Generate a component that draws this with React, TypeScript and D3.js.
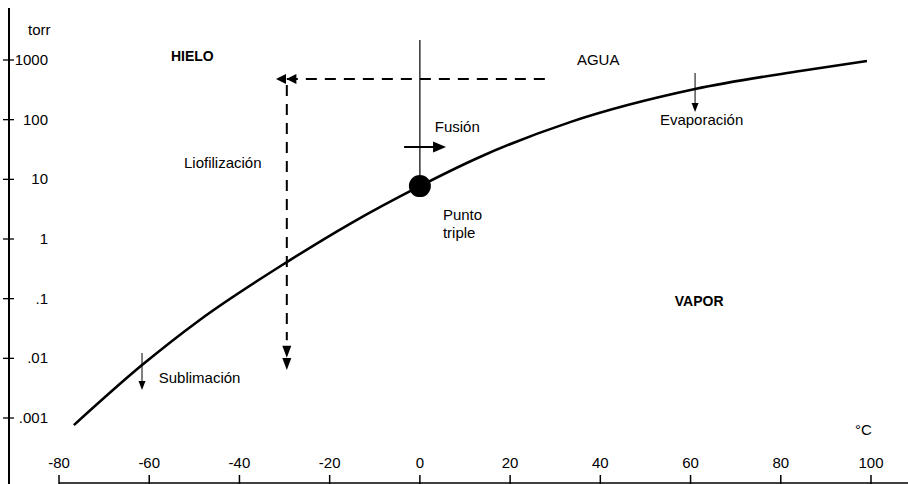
import React, { useEffect, useRef } from "react";
import * as d3 from "d3";

// curva de presión de vapor
const temps = [-76.7, -61.6, -48.8, -29.5, -15.5, 0, 13.3, 33.3, 61.0, 84.3, 99.1];
const pressures = [0.00076, 0.0077, 0.044, 0.41, 1.8, 7.7, 23.7, 91, 326, 654, 962];

const xTicks = [-80, -60, -40, -20, 0, 20, 40, 60, 80, 100];
const yTicks = [1000, 100, 10, 1, 0.1, 0.01, 0.001];
const yTickLabels = ["1000", "100", "10", "1", ".1", ".01", ".001"];

// punto triple
const triplePoint = { t: 0, p: 7.7 };

// etiquetas: texto, temperatura, presión, negrita
const labels = [
  { text: "HIELO", t: -55.2, p: 962, bold: true },
  { text: "AGUA", t: 34.8, p: 824, bold: false },
  { text: "VAPOR", t: 56.5, p: 0.0753, bold: true },
  { text: "Liofilización", t: -52.3, p: 15.5, bold: false },
  { text: "Fusión", t: 3.3, p: 62, bold: false },
  { text: "Evaporación", t: 53.2, p: 81, bold: false },
  { text: "Sublimación", t: -57.9, p: 0.00386, bold: false },
  { text: "Punto", t: 5.1, p: 2.08, bold: false },
  { text: "triple", t: 5.1, p: 1.04, bold: false },
];

const App = () => {
  const svgRef = useRef(null);

  useEffect(() => {
    const width = 908;
    const height = 484;
    const svg = d3.select(svgRef.current);
    svg.selectAll("*").remove();
    svg.attr("width", width).attr("height", height);

    const font = "'Liberation Sans', Arial, sans-serif";

    const x = d3.scaleLinear().domain([-80, 100]).range([59, 871]);
    const y = d3.scaleLog().domain([0.001, 1000]).range([418, 60]);

    // eje vertical
    svg
      .append("line")
      .attr("x1", 9)
      .attr("x2", 9)
      .attr("y1", 8)
      .attr("y2", height)
      .attr("stroke", "#000")
      .attr("stroke-width", 2);

    yTicks.forEach((v, i) => {
      svg
        .append("line")
        .attr("x1", 3)
        .attr("x2", 14)
        .attr("y1", y(v))
        .attr("y2", y(v))
        .attr("stroke", "#000")
        .attr("stroke-width", 1.3);
      svg
        .append("text")
        .attr("x", 48)
        .attr("y", y(v) + 5)
        .attr("text-anchor", "end")
        .attr("font-family", font)
        .attr("font-size", "15px")
        .text(yTickLabels[i]);
    });

    svg
      .append("text")
      .attr("x", 28)
      .attr("y", 35)
      .attr("font-family", font)
      .attr("font-size", "15px")
      .text("torr");

    // eje horizontal
    svg
      .append("line")
      .attr("x1", x(-80))
      .attr("x2", width)
      .attr("y1", height - 1)
      .attr("y2", height - 1)
      .attr("stroke", "#000")
      .attr("stroke-width", 1.5);

    xTicks.forEach((v) => {
      svg
        .append("line")
        .attr("x1", x(v))
        .attr("x2", x(v))
        .attr("y1", height - 9)
        .attr("y2", height)
        .attr("stroke", "#000")
        .attr("stroke-width", 1.5);
      svg
        .append("text")
        .attr("x", x(v))
        .attr("y", 468)
        .attr("text-anchor", "middle")
        .attr("font-family", font)
        .attr("font-size", "15px")
        .text(v);
    });

    svg
      .append("text")
      .attr("x", 855)
      .attr("y", 435)
      .attr("font-family", font)
      .attr("font-size", "15px")
      .text("°C");

    // curva
    const line = d3
      .line()
      .x((d) => x(d[0]))
      .y((d) => y(d[1]))
      .curve(d3.curveMonotoneX);

    svg
      .append("path")
      .attr("d", line(temps.map((t, i) => [t, pressures[i]])))
      .attr("fill", "none")
      .attr("stroke", "#000")
      .attr("stroke-width", 2.6);

    // punta de flecha
    const head = (tx, ty, dir, len, half) => {
      let pts;
      if (dir === "down") pts = [[tx, ty], [tx - half, ty - len], [tx + half, ty - len]];
      else if (dir === "left") pts = [[tx, ty], [tx + len, ty - half], [tx + len, ty + half]];
      else pts = [[tx, ty], [tx - len, ty - half], [tx - len, ty + half]];
      svg
        .append("path")
        .attr("d", "M" + pts.map((p) => p.join(",")).join("L") + "Z")
        .attr("fill", "#000");
    };

    // línea vertical desde el punto triple
    svg
      .append("line")
      .attr("x1", x(0))
      .attr("x2", x(0))
      .attr("y1", y(2163))
      .attr("y2", y(triplePoint.p))
      .attr("stroke", "#000")
      .attr("stroke-width", 1.2);

    // fusión
    svg
      .append("line")
      .attr("x1", x(-3.5))
      .attr("x2", x(4))
      .attr("y1", y(34.8))
      .attr("y2", y(34.8))
      .attr("stroke", "#000")
      .attr("stroke-width", 2);
    head(x(5.8), y(34.8), "right", 13, 5.5);

    // liofilización: trayectoria discontinua
    const dash = "11,8";
    svg
      .append("line")
      .attr("x1", x(27.7))
      .attr("x2", x(-29.5))
      .attr("y1", y(480))
      .attr("y2", y(480))
      .attr("stroke", "#000")
      .attr("stroke-width", 1.8)
      .attr("stroke-dasharray", dash);
    head(x(-31.9), y(480), "left", 10, 5);
    head(x(-29.6), y(480), "left", 10, 5);

    svg
      .append("line")
      .attr("x1", x(-29.5))
      .attr("x2", x(-29.5))
      .attr("y1", y(480) + 6)
      .attr("y2", y(0.02))
      .attr("stroke", "#000")
      .attr("stroke-width", 2)
      .attr("stroke-dasharray", dash);
    head(x(-29.5), y(0.0102), "down", 12, 4.5);
    head(x(-29.5), y(0.0064), "down", 12, 4.5);

    // evaporación
    svg
      .append("line")
      .attr("x1", x(61))
      .attr("x2", x(61))
      .attr("y1", y(606))
      .attr("y2", y(134) - 6)
      .attr("stroke", "#000")
      .attr("stroke-width", 1);
    head(x(61), y(134), "down", 9, 3.5);

    // sublimación
    svg
      .append("line")
      .attr("x1", x(-61.6))
      .attr("x2", x(-61.6))
      .attr("y1", y(0.0123))
      .attr("y2", y(0.00294) - 6)
      .attr("stroke", "#000")
      .attr("stroke-width", 1);
    head(x(-61.6), y(0.00294), "down", 9, 3.5);

    // punto triple
    svg
      .append("circle")
      .attr("cx", x(triplePoint.t))
      .attr("cy", y(triplePoint.p))
      .attr("r", 11)
      .attr("fill", "#000");

    labels.forEach((l) => {
      svg
        .append("text")
        .attr("x", x(l.t))
        .attr("y", y(l.p))
        .attr("font-family", font)
        .attr("font-size", l.bold ? "14px" : "15px")
        .attr("font-weight", l.bold ? "bold" : "normal")
        .text(l.text);
    });
  }, []);

  return (
    <svg
      ref={svgRef}
      style={{ position: "absolute", left: 0, top: 0, background: "#fff" }}
    ></svg>
  );
};

export default App;
